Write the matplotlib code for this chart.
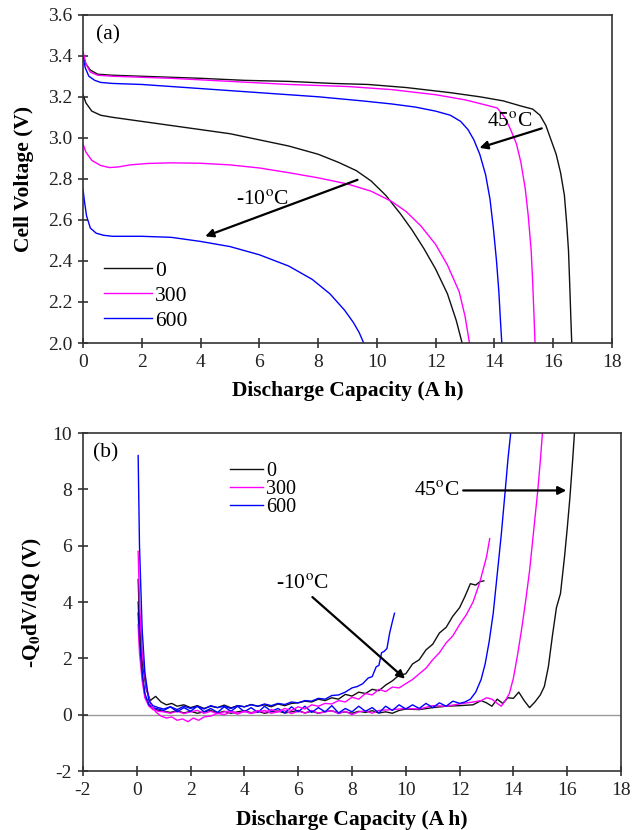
import matplotlib
matplotlib.use("Agg")
import matplotlib.pyplot as plt

plt.rcParams['font.family'] = ['Liberation Serif', 'DejaVu Serif']
plt.rcParams['mathtext.fontset'] = 'stix'
plt.rcParams['axes.unicode_minus'] = False

# ---------------- (a) discharge curves ----------------
# 45 C group
a0_45_x = [0.0, 0.1, 0.25, 0.5, 1.0, 2.0, 3.0, 4.0, 5.5, 7.0, 8.5, 9.7, 11.0, 12.5, 13.5, 14.3, 14.9, 15.3, 15.55, 15.75, 15.9, 16.1, 16.25, 16.38, 16.46, 16.52, 16.57, 16.6, 16.63]
a0_45_y = [3.40, 3.36, 3.33, 3.31, 3.305, 3.30, 3.295, 3.29, 3.28, 3.275, 3.265, 3.26, 3.245, 3.22, 3.20, 3.18, 3.155, 3.14, 3.11, 3.06, 3.00, 2.92, 2.83, 2.72, 2.58, 2.45, 2.25, 2.12, 2.00]

a300_45_x = [0.0, 0.1, 0.25, 0.5, 1.0, 2.0, 3.0, 5.0, 7.0, 9.0, 10.5, 12.0, 13.0, 13.7, 14.1, 14.35, 14.55, 14.75, 14.9, 15.05, 15.15, 15.25, 15.3, 15.35, 15.38]
a300_45_y = [3.42, 3.36, 3.32, 3.305, 3.30, 3.295, 3.29, 3.275, 3.26, 3.25, 3.235, 3.21, 3.185, 3.16, 3.145, 3.10, 3.04, 2.97, 2.88, 2.75, 2.62, 2.45, 2.30, 2.12, 2.00]

a600_45_x = [0.0, 0.08, 0.2, 0.4, 0.6, 1.0, 2.0, 3.0, 4.0, 5.0, 6.5, 8.0, 9.5, 10.5, 11.3, 12.0, 12.5, 12.85, 13.1, 13.3, 13.5, 13.7, 13.85, 13.97, 14.07, 14.15, 14.2, 14.25]
a600_45_y = [3.39, 3.34, 3.30, 3.28, 3.27, 3.265, 3.26, 3.25, 3.24, 3.23, 3.215, 3.20, 3.18, 3.165, 3.15, 3.13, 3.11, 3.08, 3.04, 2.99, 2.92, 2.82, 2.70, 2.55, 2.40, 2.25, 2.12, 2.00]

# -10 C group
a0_m10_x = [0.0, 0.1, 0.3, 0.6, 1.0, 1.5, 2.5, 4.0, 5.0, 6.0, 7.0, 8.0, 8.7, 9.3, 9.8, 10.3, 10.8, 11.2, 11.6, 12.0, 12.4, 12.7, 12.9]
a0_m10_y = [3.21, 3.17, 3.13, 3.11, 3.10, 3.09, 3.07, 3.04, 3.02, 2.99, 2.96, 2.92, 2.88, 2.84, 2.79, 2.72, 2.63, 2.55, 2.46, 2.36, 2.24, 2.11, 2.00]

a300_m10_x = [0.0, 0.1, 0.3, 0.6, 0.9, 1.2, 1.6, 2.2, 3.0, 4.0, 5.0, 6.0, 7.0, 8.0, 9.0, 9.8, 10.5, 11.0, 11.5, 12.0, 12.4, 12.8, 13.0, 13.15]
a300_m10_y = [2.97, 2.93, 2.89, 2.865, 2.855, 2.858, 2.868, 2.875, 2.878, 2.876, 2.868, 2.853, 2.83, 2.805, 2.775, 2.74, 2.69, 2.64, 2.57, 2.48, 2.38, 2.25, 2.13, 2.00]

a600_m10_x = [0.0, 0.05, 0.12, 0.25, 0.45, 0.7, 1.0, 2.0, 3.0, 4.0, 5.0, 6.0, 7.0, 7.8, 8.4, 8.9, 9.2, 9.4, 9.55]
a600_m10_y = [2.75, 2.69, 2.62, 2.56, 2.535, 2.525, 2.52, 2.52, 2.515, 2.495, 2.47, 2.43, 2.375, 2.31, 2.24, 2.16, 2.10, 2.05, 2.00]

# ---------------- (b) -Q0 dV/dQ curves ----------------
b0_45_x = [0.05, 0.1, 0.2, 0.3, 0.45, 0.6, 0.8, 1.0, 1.25, 1.5, 1.75, 2.0, 2.25, 2.5, 2.75, 3.0, 3.25, 3.5, 3.75, 4.0, 4.25, 4.5, 4.75, 5.0, 5.25, 5.5, 5.75, 6.0, 6.25, 6.5, 6.75, 7.0, 7.25, 7.5, 7.75, 8.0, 8.25, 8.5, 8.75, 9.0, 9.25, 9.5, 9.75, 10.0, 10.5, 11.0, 11.5, 12.0, 12.5, 12.8, 13.0, 13.2, 13.4, 13.6, 13.8, 14.0, 14.2, 14.4, 14.6, 14.8, 15.0, 15.15, 15.3, 15.45, 15.6, 15.75, 15.9, 16.0, 16.1, 16.2, 16.27]
b0_45_y = [3.6, 2.6, 1.4, 0.7, 0.35, 0.22, 0.15, 0.12, 0.08, 0.14, 0.06, 0.12, 0.05, 0.1, 0.15, 0.06, 0.12, 0.05, 0.1, 0.14, 0.07, 0.12, 0.05, 0.1, 0.13, 0.06, 0.1, 0.15, 0.06, 0.12, 0.05, 0.11, 0.14, 0.06, 0.1, 0.05, 0.12, 0.08, 0.14, 0.06, 0.1, 0.05, 0.15, 0.2, 0.18, 0.25, 0.3, 0.32, 0.35, 0.5, 0.42, 0.3, 0.55, 0.4, 0.6, 0.58, 0.8, 0.5, 0.25, 0.45, 0.7, 1.0, 1.7, 2.8, 3.8, 4.3, 5.6, 6.6, 7.7, 9.0, 10.0]

b300_45_x = [0.05, 0.1, 0.2, 0.3, 0.45, 0.6, 0.8, 1.0, 1.25, 1.5, 1.75, 2.0, 2.25, 2.5, 2.75, 3.0, 3.25, 3.5, 3.75, 4.0, 4.25, 4.5, 4.75, 5.0, 5.25, 5.5, 5.75, 6.0, 6.25, 6.5, 6.75, 7.0, 7.25, 7.5, 7.75, 8.0, 8.25, 8.5, 8.75, 9.0, 9.5, 10.0, 10.5, 11.0, 11.5, 12.0, 12.5, 12.8, 13.0, 13.2, 13.4, 13.55, 13.7, 13.85, 14.0, 14.15, 14.3, 14.45, 14.6, 14.75, 14.9, 15.0, 15.08]
b300_45_y = [3.2, 2.2, 1.2, 0.6, 0.3, 0.18, 0.12, 0.1, 0.05, 0.12, 0.04, 0.1, 0.15, 0.05, 0.12, 0.03, 0.1, 0.14, 0.05, 0.12, 0.04, 0.1, 0.15, 0.05, 0.1, 0.14, 0.04, 0.12, 0.06, 0.15, 0.05, 0.1, 0.14, 0.04, 0.12, 0.0, 0.1, 0.14, 0.05, 0.15, 0.18, 0.22, 0.2, 0.32, 0.3, 0.38, 0.45, 0.5, 0.6, 0.55, 0.4, 0.3, 0.5, 0.75, 1.3, 2.1, 3.0, 4.0, 5.1, 6.5, 7.9, 9.0, 10.0]

b600_45_x = [0.05, 0.1, 0.2, 0.3, 0.45, 0.6, 0.8, 1.0, 1.25, 1.5, 1.75, 2.0, 2.25, 2.5, 2.75, 3.0, 3.25, 3.5, 3.75, 4.0, 4.25, 4.5, 4.75, 5.0, 5.25, 5.5, 5.75, 6.0, 6.25, 6.5, 6.75, 7.0, 7.25, 7.5, 7.75, 8.0, 8.25, 8.5, 8.75, 9.0, 9.25, 9.5, 9.75, 10.0, 10.25, 10.5, 10.75, 11.0, 11.25, 11.5, 11.75, 12.0, 12.2, 12.4, 12.6, 12.8, 12.95, 13.1, 13.25, 13.4, 13.55, 13.7, 13.8, 13.9]
b600_45_y = [4.0, 2.8, 1.5, 0.75, 0.35, 0.25, 0.2, 0.15, 0.28, 0.1, 0.25, 0.12, 0.3, 0.1, 0.22, 0.08, 0.28, 0.12, 0.3, 0.1, 0.25, 0.08, 0.3, 0.12, 0.22, 0.06, 0.28, 0.1, 0.3, 0.08, 0.25, 0.1, 0.32, 0.06, 0.22, 0.1, 0.3, 0.12, 0.25, 0.06, 0.3, 0.15, 0.35, 0.2, 0.35, 0.22, 0.4, 0.25, 0.42, 0.3, 0.48, 0.4, 0.45, 0.55, 0.8, 1.25, 1.8, 2.6, 3.6, 5.0, 6.4, 8.0, 9.1, 10.0]

b0_m10_x = [0.05, 0.1, 0.2, 0.35, 0.5, 0.7, 0.9, 1.1, 1.3, 1.5, 1.75, 2.0, 2.25, 2.5, 2.75, 3.0, 3.25, 3.5, 3.75, 4.0, 4.25, 4.5, 4.75, 5.0, 5.25, 5.5, 5.75, 6.0, 6.25, 6.5, 6.75, 7.0, 7.25, 7.5, 7.75, 8.0, 8.25, 8.5, 8.75, 9.0, 9.25, 9.5, 9.75, 10.0, 10.25, 10.5, 10.75, 11.0, 11.25, 11.5, 11.75, 12.0, 12.2, 12.4, 12.6, 12.75, 12.9]
b0_m10_y = [4.8, 3.3, 1.9, 0.9, 0.5, 0.65, 0.45, 0.35, 0.4, 0.3, 0.35, 0.25, 0.32, 0.22, 0.3, 0.25, 0.34, 0.24, 0.32, 0.28, 0.36, 0.3, 0.35, 0.28, 0.38, 0.32, 0.4, 0.42, 0.48, 0.45, 0.55, 0.5, 0.6, 0.55, 0.72, 0.66, 0.8, 0.75, 0.9, 0.85, 1.05, 1.2, 1.4, 1.45, 1.8, 1.95, 2.3, 2.5, 2.9, 3.1, 3.5, 3.8, 4.2, 4.65, 4.6, 4.72, 4.75]

b300_m10_x = [0.05, 0.1, 0.2, 0.35, 0.5, 0.7, 0.9, 1.1, 1.3, 1.5, 1.7, 1.9, 2.1, 2.3, 2.5, 2.75, 3.0, 3.25, 3.5, 3.75, 4.0, 4.25, 4.5, 4.75, 5.0, 5.25, 5.5, 5.75, 6.0, 6.25, 6.5, 6.75, 7.0, 7.25, 7.5, 7.75, 8.0, 8.25, 8.5, 8.75, 9.0, 9.25, 9.5, 9.75, 10.0, 10.25, 10.5, 10.75, 11.0, 11.25, 11.5, 11.75, 12.0, 12.25, 12.5, 12.75, 13.0, 13.12]
b300_m10_y = [5.8, 4.0, 2.2, 1.0, 0.4, 0.1, -0.05, -0.12, -0.08, -0.2, -0.15, -0.25, -0.12, -0.2, -0.08, -0.05, 0.05, 0.0, 0.1, 0.02, 0.12, 0.05, 0.15, 0.08, 0.18, 0.1, 0.22, 0.15, 0.28, 0.2, 0.35, 0.3, 0.4, 0.38, 0.5, 0.45, 0.62, 0.55, 0.75, 0.7, 0.9, 0.82, 0.98, 0.95, 1.1, 1.25, 1.45, 1.65, 1.95, 2.2, 2.55, 2.8, 3.2, 3.55, 4.0, 4.7, 5.6, 6.25]

b600_m10_x = [0.05, 0.1, 0.2, 0.3, 0.45, 0.6, 0.8, 1.0, 1.25, 1.5, 1.75, 2.0, 2.25, 2.5, 2.75, 3.0, 3.25, 3.5, 3.75, 4.0, 4.25, 4.5, 4.75, 5.0, 5.25, 5.5, 5.75, 6.0, 6.25, 6.5, 6.75, 7.0, 7.25, 7.5, 7.75, 8.0, 8.2, 8.4, 8.6, 8.75, 8.9, 9.0, 9.1, 9.2, 9.3, 9.4, 9.5, 9.58]
b600_m10_y = [9.2, 6.0, 3.0, 1.5, 0.5, 0.32, 0.25, 0.2, 0.28, 0.18, 0.3, 0.22, 0.3, 0.2, 0.32, 0.25, 0.3, 0.22, 0.32, 0.28, 0.35, 0.3, 0.38, 0.32, 0.4, 0.36, 0.45, 0.42, 0.5, 0.48, 0.58, 0.55, 0.68, 0.7, 0.8, 0.95, 1.0, 1.1, 1.3, 1.35, 1.7, 1.75, 2.2, 2.25, 2.35, 2.9, 3.3, 3.6]

cycle_labels = ['0', '300', '600']
colors = ['#111111', '#ff00ff', '#0000ff']

a_45 = [(a0_45_x, a0_45_y), (a300_45_x, a300_45_y), (a600_45_x, a600_45_y)]
a_m10 = [(a0_m10_x, a0_m10_y), (a300_m10_x, a300_m10_y), (a600_m10_x, a600_m10_y)]
b_45 = [(b0_45_x, b0_45_y), (b300_45_x, b300_45_y), (b600_45_x, b600_45_y)]
b_m10 = [(b0_m10_x, b0_m10_y), (b300_m10_x, b300_m10_y), (b600_m10_x, b600_m10_y)]

fig = plt.figure(figsize=(6.42, 8.30), dpi=100)
ax1 = fig.add_axes([83/642, 1-343/830, (612-83)/642, (343-14.7)/830])
ax2 = fig.add_axes([83/642, 1-771/830, (621-83)/642, (771-433)/830])

lw = 1.0
tick_fs = 14
note_fs = 15.5
lab_fs = 15.5
arrow_kw = dict(arrowstyle='-|>', color='k', lw=1.6, mutation_scale=12)

def style(ax):
    for s in ax.spines.values():
        s.set_linewidth(1.2)
        s.set_color('#333333')
    ax.tick_params(direction='inout', length=7.5, width=1.1, colors='#222222',
                   labelsize=tick_fs, top=False, right=False, pad=4)

# panel (a)
for (x, y), c, lab in zip(a_45, colors, cycle_labels):
    ax1.plot(x, y, color=c, lw=lw, label=lab)
for (x, y), c in zip(a_m10, colors):
    ax1.plot(x, y, color=c, lw=lw)
ax1.set_xlim(0, 18)
ax1.set_ylim(2.0, 3.6)
ax1.set_xticks(range(0, 19, 2))
ax1.set_yticks([2.0, 2.2, 2.4, 2.6, 2.8, 3.0, 3.2, 3.4, 3.6])
ax1.set_yticklabels(['2.0', '2.2', '2.4', '2.6', '2.8', '3.0', '3.2', '3.4', '3.6'])
style(ax1)
ax1.set_xlabel('Discharge Capacity (A h)', fontsize=lab_fs, fontweight='bold')
ax1.set_ylabel('Cell Voltage (V)', fontsize=lab_fs, fontweight='bold')
ax1.xaxis.set_label_coords(0.5, -0.115)
ax1.yaxis.set_label_coords(-0.093, 0.5)
ax1.legend(loc='upper left', bbox_to_anchor=(0.04, 0.25), frameon=False,
           fontsize=note_fs, handlelength=2.2, handletextpad=0.15,
           labelspacing=0.22, borderaxespad=0, borderpad=0)
ax1.text(0.45, 3.50, '(a)', fontsize=note_fs, va='center')
ax1.annotate('', xy=(13.4, 2.947), xytext=(15.7, 3.05), arrowprops=arrow_kw)
ax1.text(13.75, 3.08, r'45$^{\rm o}$C', fontsize=note_fs, va='center')
ax1.annotate('', xy=(4.07, 2.515), xytext=(9.43, 2.80), arrowprops=arrow_kw)
ax1.text(5.2, 2.70, r'-10$^{\rm o}$C', fontsize=note_fs, va='center')

# panel (b)
ax2.axhline(0, color='#999999', lw=1.0, zorder=1)
for (x, y), c, lab in zip(b_45, colors, cycle_labels):
    ax2.plot(x, y, color=c, lw=lw, label=lab, zorder=2)
for (x, y), c in zip(b_m10, colors):
    ax2.plot(x, y, color=c, lw=lw, zorder=2)
ax2.set_xlim(-2, 18)
ax2.set_ylim(-2, 10)
ax2.set_xticks(range(-2, 19, 2))
ax2.set_yticks(range(-2, 11, 2))
style(ax2)
ax2.set_xlabel('Discharge Capacity (A h)', fontsize=lab_fs, fontweight='bold')
ax2.set_ylabel(r'-Q$_\mathbf{0}$dV/dQ (V)', fontsize=lab_fs, fontweight='bold')
ax2.xaxis.set_label_coords(0.5, -0.115)
ax2.yaxis.set_label_coords(-0.072, 0.5)
ax2.legend(loc='upper left', bbox_to_anchor=(0.273, 0.915), frameon=False,
           fontsize=tick_fs + 0.5, handlelength=1.65, handletextpad=0.15,
           labelspacing=-0.05, borderaxespad=0, borderpad=0)
ax2.text(-1.62, 9.29, '(b)', fontsize=note_fs, va='center')
ax2.annotate('', xy=(16.07, 7.96), xytext=(12.03, 7.96), arrowprops=arrow_kw)
ax2.text(10.3, 7.96, r'45$^{\rm o}$C', fontsize=note_fs, va='center')
ax2.annotate('', xy=(10.05, 1.21), xytext=(6.45, 4.24), arrowprops=arrow_kw)
ax2.text(5.18, 4.66, r'-10$^{\rm o}$C', fontsize=note_fs, va='center')

fig.savefig('out.png', dpi=100)
